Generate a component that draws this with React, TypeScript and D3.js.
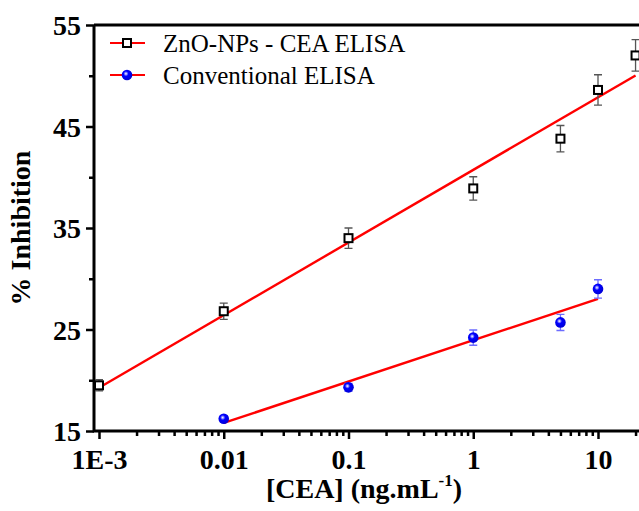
import React, { useEffect, useRef } from 'react';
import * as d3 from 'd3';

// concentrations (ng/mL)
const znoConc = [0.001, 0.01, 0.1, 1, 5, 10, 20];
const znoInhib = [19.5, 26.8, 34.0, 38.9, 43.8, 48.6, 52.0];
const znoErr = [0.55, 0.8, 1.0, 1.15, 1.3, 1.5, 1.55];

const convConc = [0.01, 0.1, 1, 5, 10];
const convInhib = [16.2, 19.3, 24.2, 25.7, 29.0];
const convErr = [0.3, 0.4, 0.75, 0.8, 0.9];

const xMajor = [0.001, 0.01, 0.1, 1, 10];
const xMajorLabels = ['1E-3', '0.01', '0.1', '1', '10'];
const yMajor = [15, 25, 35, 45, 55];
const yMinor = [20, 30, 40, 50];

const legendNames = ['ZnO-NPs - CEA ELISA', 'Conventional ELISA'];

// least squares on log10(x)
const logFit = (xs, ys) => {
    const lx = xs.map(v => Math.log10(v));
    const mx = d3.mean(lx);
    const my = d3.mean(ys);
    let sxx = 0, sxy = 0;
    lx.forEach((v, i) => { sxx += (v - mx) ** 2; sxy += (v - mx) * (ys[i] - my); });
    const slope = sxy / sxx;
    const icpt = my - slope * mx;
    return (x) => icpt + slope * Math.log10(x);
};

const App = () => {
    const ref = useRef(null);

    useEffect(() => {
        const svg = d3.select(ref.current);
        svg.selectAll('*').remove();

        const font = '"Liberation Serif", "Times New Roman", serif';
        const x = d3.scaleLog().domain([0.001, 10]).range([99, 598]);
        const y = d3.scaleLinear().domain([15, 55]).range([431, 25]);
        const left = 94;

        const defs = svg.append('defs');
        const grad = defs.append('radialGradient').attr('id', 'ball')
            .attr('cx', '40%').attr('cy', '38%').attr('r', '60%');
        grad.append('stop').attr('offset', '0%').attr('stop-color', '#ffffff');
        grad.append('stop').attr('offset', '18%').attr('stop-color', '#9090ff');
        grad.append('stop').attr('offset', '40%').attr('stop-color', '#0000ff');
        grad.append('stop').attr('offset', '100%').attr('stop-color', '#0000d8');

        // minor ticks x
        const xMinor = [];
        [-3, -2, -1, 0, 1].forEach(p => {
            for (let m = 2; m <= 9; m++) xMinor.push(m * Math.pow(10, p));
        });

        const xAxisMinor = svg.append('g').attr('transform', 'translate(0,431)')
            .call(d3.axisBottom(x).tickValues(xMinor).tickSize(5).tickFormat(() => ''));
        const xAxis = svg.append('g').attr('transform', 'translate(0,431)')
            .call(d3.axisBottom(x).tickValues(xMajor).tickSize(8).tickPadding(10)
                .tickFormat((d, i) => xMajorLabels[i]));
        const yAxisMinor = svg.append('g').attr('transform', `translate(${left},0)`)
            .call(d3.axisLeft(y).tickValues(yMinor).tickSize(5).tickFormat(() => ''));
        const yAxis = svg.append('g').attr('transform', `translate(${left},0)`)
            .call(d3.axisLeft(y).tickValues(yMajor).tickSize(8).tickPadding(5));

        [xAxisMinor, xAxis, yAxisMinor, yAxis].forEach(g => {
            g.select('.domain').remove();
            g.selectAll('line').attr('stroke', '#000').attr('stroke-width', 2.5);
            g.selectAll('text').attr('font-family', font).attr('font-weight', 'bold')
                .attr('font-size', 28).attr('fill', '#000');
        });
        yAxis.selectAll('text').attr('dy', '0.34em');

        // frame
        svg.append('path')
            .attr('d', `M${left},25V431H660M${left},25H660`)
            .attr('fill', 'none').attr('stroke', '#000').attr('stroke-width', 3);

        // legend
        svg.append('rect').attr('x', 97).attr('y', 28).attr('width', 333).attr('height', 76)
            .attr('fill', '#fff');

        // fit lines
        const fits = [
            { xs: znoConc, f: logFit(znoConc, znoInhib) },
            { xs: convConc, f: logFit(convConc, convInhib) },
        ];
        fits.forEach(s => {
            const x0 = d3.min(s.xs), x1 = d3.max(s.xs);
            svg.append('line')
                .attr('x1', x(x0)).attr('y1', y(s.f(x0)))
                .attr('x2', x(x1)).attr('y2', y(s.f(x1)))
                .attr('stroke', '#ff0000').attr('stroke-width', 2.4);
        });

        // error bars
        const errBars = (xs, ys, es, color) => {
            const g = svg.append('g').attr('stroke', color).attr('stroke-width', 1.3).attr('fill', 'none');
            xs.forEach((c, i) => {
                const cx = x(c);
                const yt = y(ys[i] + es[i]), yb = y(ys[i] - es[i]);
                g.append('path').attr('d', `M${cx},${yt}V${yb}M${cx - 4},${yt}H${cx + 4}M${cx - 4},${yb}H${cx + 4}`);
            });
        };
        errBars(znoConc, znoInhib, znoErr, '#555');
        errBars(convConc, convInhib, convErr, '#6c6cff');

        const square = (g, cx, cy) => g.append('rect')
            .attr('x', cx - 4).attr('y', cy - 4).attr('width', 8).attr('height', 8)
            .attr('fill', '#fff').attr('stroke', '#000').attr('stroke-width', 2);
        const ball = (g, cx, cy) => g.append('circle')
            .attr('cx', cx).attr('cy', cy).attr('r', 5.3).attr('fill', 'url(#ball)');

        const pts = svg.append('g');
        znoConc.forEach((c, i) => square(pts, x(c), y(znoInhib[i])));
        convConc.forEach((c, i) => ball(pts, x(c), y(convInhib[i])));

        // legend entries
        const leg = svg.append('g');
        [43, 75].forEach((ly, i) => {
            leg.append('line').attr('x1', 110).attr('x2', 145).attr('y1', ly).attr('y2', ly)
                .attr('stroke', '#ff0000').attr('stroke-width', 2.2);
            if (i === 0) square(leg, 127, ly); else ball(leg, 127, ly);
            leg.append('text').attr('x', 163).attr('y', ly).attr('dy', '0.34em')
                .attr('font-family', font).attr('font-size', 25).text(legendNames[i]);
        });

        // titles
        const xt = svg.append('text').attr('x', 364).attr('y', 498).attr('text-anchor', 'middle')
            .attr('font-family', font).attr('font-weight', 'bold').attr('font-size', 28);
        xt.append('tspan').text('[CEA] (ng.mL');
        xt.append('tspan').attr('font-size', 17).attr('dy', -12).text('-1');
        xt.append('tspan').attr('dy', 12).text(')');

        svg.append('text').attr('transform', 'translate(30,228) rotate(-90)')
            .attr('text-anchor', 'middle').attr('font-family', font).attr('font-weight', 'bold')
            .attr('font-size', 28).text('% Inhibition');
    }, []);

    return (
        <svg ref={ref} width={639} height={511}
            style={{ position: 'absolute', left: 0, top: 0, background: '#fff' }} />
    );
};

export default App;
